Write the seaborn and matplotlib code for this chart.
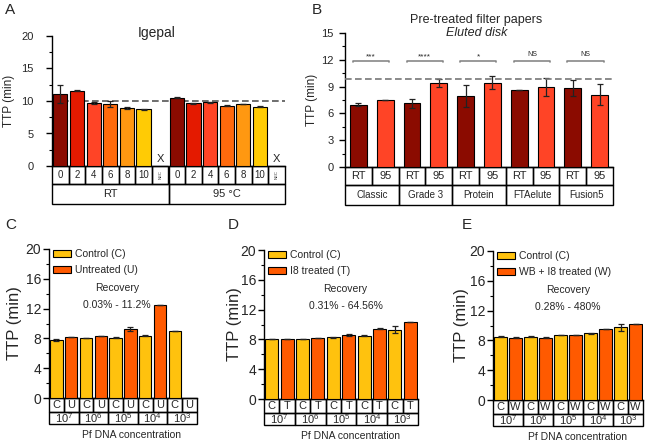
import numpy as np
import pandas as pd
import matplotlib
matplotlib.use("Agg")
import matplotlib.pyplot as plt
import seaborn as sns
from matplotlib.patches import Rectangle, Patch
from matplotlib.transforms import blended_transform_factory
from matplotlib.ticker import MultipleLocator

# --- data ---
# A: Igepal
igepal_temp = ["RT"] * 7 + ["95 °C"] * 7
igepal_conc = ["0", "2", "4", "6", "8", "10", "NEC"] * 2
igepal_ttp = [11.1, 11.6, 9.7, 9.6, 8.9, 8.7, np.nan,
              10.5, 9.65, 9.8, 9.25, 9.55, 9.1, np.nan]
igepal_sd = [1.4, 0.08, 0.1, 0.45, 0.1, 0.05, np.nan,
             0.05, 0.05, 0.1, 0.08, 0.05, 0.08, np.nan]
igepal_colors = ["#8B0B00", "#E41A00", "#FF4426", "#FF6A0D", "#FF9811", "#FFCB05", "#FFFFFF"] * 2

# B: filter papers
paper_names = ["Classic", "Grade 3", "Protein", "FTAelute", "Fusion5"]
paper_cond = ["RT", "95"]
paper_ttp = [6.98, 7.54, 7.13, 9.4, 7.95, 9.44, 8.58, 8.92, 8.88, 8.1]
paper_sd = [0.15, 0.0, 0.5, 0.45, 1.2, 0.75, 0.0, 1.0, 0.9, 1.15]
paper_sig = ["***", "****", "*", "NS", "NS"]
paper_colors = {"RT": "#8B0B00", "95": "#FF4426"}

# C-E: Pf DNA concentrations
conc_labels = ["$10^7$", "$10^6$", "$10^5$", "$10^4$", "$10^3$"]
untreated_ttp = [7.8, 8.17, 8.04, 8.3, 8.1, 9.24, 8.35, 12.46, 9.0, np.nan]
untreated_sd = [0.12, 0.03, 0.03, 0.03, 0.05, 0.3, 0.05, 0.0, 0.0, np.nan]
i8_ttp = [8.08, 8.08, 8.08, 8.2, 8.27, 8.6, 8.5, 9.44, 9.3, 10.34]
i8_sd = [0.03, 0.0, 0.03, 0.05, 0.03, 0.08, 0.03, 0.1, 0.5, 0.0]
wb_ttp = [8.5, 8.37, 8.5, 8.37, 8.72, 8.72, 8.95, 9.53, 9.75, 10.2]
wb_sd = [0.05, 0.05, 0.03, 0.05, 0.03, 0.05, 0.1, 0.05, 0.45, 0.0]
ctrl_color = "#FFC20E"
treat_color = "#FF5A00"

sns.set_style("ticks")
plt.rcParams['font.family'] = ['Liberation Sans', 'DejaVu Sans']
plt.rcParams['mathtext.fontset'] = 'custom'
plt.rcParams['mathtext.rm'] = 'Liberation Sans'
plt.rcParams['mathtext.it'] = 'Liberation Sans:italic'

W, H = 647, 444
fig = plt.figure(figsize=(W / 100, H / 100), dpi=100)


def add_ax(left, right, top, bottom):
    return fig.add_axes([left / W, 1 - bottom / H, (right - left) / W, (bottom - top) / H])


def style_axis(ax, ymax, major, minor, tick_fs, pad):
    ax.set_ylim(0, ymax)
    ax.yaxis.set_major_locator(MultipleLocator(major))
    ax.yaxis.set_minor_locator(MultipleLocator(minor))
    ax.tick_params(axis='y', which='major', length=4, width=1, labelsize=tick_fs, pad=pad, color='black')
    ax.tick_params(axis='y', which='minor', length=2, width=0.8, color='black')
    ax.tick_params(axis='x', length=0, labelbottom=False)
    ax.set_xlabel("")
    sns.despine(ax=ax)
    for s in ["left", "bottom"]:
        ax.spines[s].set_linewidth(1)
        ax.spines[s].set_color("black")


def draw_table(ax, row1, row2, span, h1, h2, fs1, fs2):
    trans = blended_transform_factory(ax.transData, ax.transAxes)
    for i, lab in enumerate(row1):
        ax.add_patch(Rectangle((i - 0.5, -h1), 1, h1, transform=trans, fill=False,
                               lw=1, ec='black', clip_on=False))
        if lab == "NEC":
            ax.text(i, -h1 / 2, lab, transform=trans, ha='center', va='center',
                    fontsize=3, rotation=90)
        else:
            ax.text(i, -h1 / 2, lab, transform=trans, ha='center', va='center', fontsize=fs1)
    for j, lab in enumerate(row2):
        x0 = j * span - 0.5
        ax.add_patch(Rectangle((x0, -h1 - h2), span, h2, transform=trans, fill=False,
                               lw=1, ec='black', clip_on=False))
        ax.text(x0 + span / 2, -h1 - h2 / 2, lab, transform=trans, ha='center',
                va='center', fontsize=fs2)


def bars(ax, labels, values, sds, colors, width):
    df = pd.DataFrame({"label": labels, "ttp": values}).dropna()
    pal = dict(zip(labels, colors))
    sns.barplot(data=df, x="label", y="ttp", hue="label", order=labels,
                hue_order=list(df["label"]), palette=pal, legend=False,
                width=width, edgecolor='black', linewidth=0.8, errorbar=None,
                saturation=1, ax=ax, zorder=3)
    ax.errorbar(np.arange(len(labels)), values, yerr=sds, fmt='none', ecolor='#222222',
                elinewidth=0.9, capsize=2.5, capthick=0.9, zorder=4)
    ax.set_xlim(-0.5, len(labels) - 0.5)


# --- A ---
axA = add_ax(52, 285, 36, 166)
labA = [f"{t} {c}" for t, c in zip(igepal_temp, igepal_conc)]
bars(axA, labA, igepal_ttp, igepal_sd, igepal_colors, 0.85)
axA.axhline(10, color='#555555', ls=(0, (4, 2)), lw=1.2, zorder=2)
style_axis(axA, 20, 5, 2.5, 8, 9)
axA.set_ylabel("TTP (min)", fontsize=8.5)
axA.yaxis.set_label_coords(-0.16, 0.5)
for i, c in enumerate(igepal_conc):
    if c == "NEC":
        axA.text(i, 0.3, "X", ha='center', va='bottom', fontsize=8)
draw_table(axA, igepal_conc, ["RT", "95 °C"], 7, 18 / 130, 20 / 130, 7, 8)
axA.text(0.45, 1.02, "Igepal", transform=axA.transAxes, ha='center', va='center', fontsize=10)

# --- B ---
axB = add_ax(345, 613, 33, 167)
labB = [f"{p} {c}" for p in paper_names for c in paper_cond]
colB = [paper_colors[c] for p in paper_names for c in paper_cond]
bars(axB, labB, paper_ttp, paper_sd, colB, 0.63)
axB.axhline(9.9, color='#777777', ls=(0, (4, 2)), lw=1.2, zorder=5)
style_axis(axB, 15, 3, 1.5, 8, 4)
axB.set_ylabel("TTP (min)", fontsize=8.5)
axB.yaxis.set_label_coords(-0.10, 0.5)
for k, s in enumerate(paper_sig):
    x0, x1 = 2 * k - 0.2, 2 * k + 1.15
    axB.plot([x0, x0, x1, x1], [11.7, 11.9, 11.9, 11.7], color='#888888', lw=1.2,
             clip_on=False, zorder=5)
    axB.text((x0 + x1) / 2, 11.95 if s != "NS" else 12.2, s, ha='center', va='bottom',
             fontsize=6 if s != "NS" else 5)
draw_table(axB, paper_cond * 5, paper_names, 2, 18 / 134, 20 / 134, 8, 7)
axB.text(0.49, 1.097, "Pre-treated filter papers", transform=axB.transAxes,
         ha='center', va='center', fontsize=9)
axB.text(0.49, 1.0, "Eluted disk", transform=axB.transAxes, ha='center', va='center',
         fontsize=9, style='italic')


# --- C, D, E ---
def conc_panel(left, right, top, bottom, values, sds, letter, legend_lab, rec_text, rec_x, ylab_x):
    ax = add_ax(left, right, top, bottom)
    row1 = []
    for _ in conc_labels:
        row1 += ["C", letter]
    labs = [f"{i} {r}" for i, r in enumerate(row1)]
    cols = [ctrl_color, treat_color] * 5
    bars(ax, labs, values, sds, cols, 0.85)
    style_axis(ax, 20, 4, 2, 10, 1.5)
    ax.set_ylabel("TTP (min)", fontsize=12)
    ax.yaxis.set_label_coords(ylab_x, 0.5)
    h = bottom - top
    draw_table(ax, row1, conc_labels, 2, 14 / h, 12 / h, 8, 8)
    ax.text(0.56, -37 / h, "Pf DNA concentration", transform=ax.transAxes,
            ha='center', va='center', fontsize=7.5)
    handles = [Patch(facecolor=ctrl_color, edgecolor='black', lw=0.8, label="Control (C)"),
               Patch(facecolor=treat_color, edgecolor='black', lw=0.8, label=legend_lab)]
    ax.legend(handles=handles, loc='upper left', bbox_to_anchor=(-0.01, 1.035), frameon=False,
              fontsize=7.5, handlelength=1.8, handleheight=0.75, handletextpad=0.3,
              labelspacing=0.6, borderaxespad=0.1)
    ax.text(rec_x, 0.735, "Recovery", transform=ax.transAxes, ha='center', va='center', fontsize=7.5)
    ax.text(rec_x, 0.625, rec_text, transform=ax.transAxes, ha='center', va='center', fontsize=7.5)
    return ax


conc_panel(49, 197, 249, 398, untreated_ttp, untreated_sd, "U", "Untreated (U)",
           "0.03% - 11.2%", 0.46, -0.18)
conc_panel(264, 418, 250, 399, i8_ttp, i8_sd, "T", "I8 treated (T)",
           "0.31% - 64.56%", 0.53, -0.145)
conc_panel(493, 643, 251, 400, wb_ttp, wb_sd, "W", "WB + I8 treated (W)",
           "0.28% - 480%", 0.5, -0.16)

# panel letters
for lab, x, y in [("A", 5, 10), ("B", 312, 10), ("C", 5, 225), ("D", 228, 225), ("E", 462, 225)]:
    fig.text(x / W, 1 - y / H, lab, fontsize=11, ha='left', va='center')

fig.savefig("out.png", dpi=100)
